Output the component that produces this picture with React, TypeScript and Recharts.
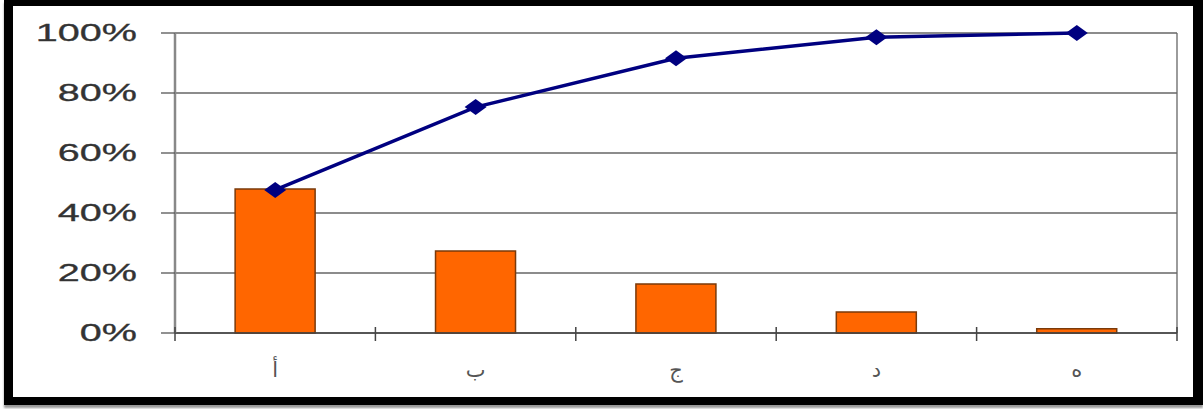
import React from 'react';
import { ComposedChart, Bar, Line, XAxis, YAxis, CartesianGrid } from 'recharts';

const categories = ['أ', 'ب', 'ج', 'د', 'ه'];
const share = [48, 27.3, 16.3, 7, 1.4];
const cumulative = [47.7, 75.3, 91.6, 98.6, 100];
const yTicks = [0, 20, 40, 60, 80, 100];

const data = categories.map((name, i) => ({ name, share: share[i], cumulative: cumulative[i] }));

const YTick = ({ x, y, payload }: any) => (
  <g transform={`translate(${x},${y}) scale(1.72,1)`}>
    <text
      textAnchor="end"
      dy={8}
      fontFamily="Liberation Sans, Arial, sans-serif"
      fontSize={23}
      fill="#333"
      stroke="#333"
      strokeWidth={0.3}
    >
      {`${payload.value}%`}
    </text>
  </g>
);

const XTick = ({ x, y, payload, index }: any) => {
  const half = payload.offset || 0;
  return (
    <g>
      <line x1={x - half} x2={x - half} y1={y - 6} y2={y + 8} stroke="#444" strokeWidth={1.5} />
      {index === categories.length - 1 && (
        <line x1={x + half} x2={x + half} y1={y - 6} y2={y + 8} stroke="#444" strokeWidth={1.5} />
      )}
      <text x={x} y={y + 44} textAnchor="middle" fontFamily="DejaVu Sans, sans-serif" fontSize={21} fill="#555">
        {payload.value}
      </text>
    </g>
  );
};

const Diamond = ({ cx, cy }: any) => (
  <polygon
    points={`${cx - 11},${cy} ${cx},${cy - 8} ${cx + 11},${cy} ${cx},${cy + 8}`}
    fill="#000080"
  />
);

export default function App() {
  return (
    <div style={{ position: 'fixed', left: 0, top: 0, width: 1203, height: 409, background: '#fff' }}>
      <div
        style={{
          position: 'absolute',
          left: 4,
          top: 0,
          width: 1199,
          height: 405,
          boxSizing: 'border-box',
          borderStyle: 'solid',
          borderColor: '#000',
          borderWidth: '6px 10px 8px 9px',
          boxShadow: '0 3px 2px #999',
        }}
      />
      <div style={{ position: 'absolute', left: 0, top: 0 }}>
        <ComposedChart
          width={1203}
          height={409}
          data={data}
          margin={{ top: 33, right: 26, bottom: 0, left: 0 }}
          barCategoryGap="30%"
        >
          <CartesianGrid
            stroke="#666"
            strokeWidth={1.3}
            verticalCoordinatesGenerator={({ offset }: any) => [offset.left + offset.width]}
            vertical
          />
          <XAxis
            dataKey="name"
            height={76}
            axisLine={{ stroke: '#444', strokeWidth: 1.5 }}
            tickLine={false}
            tickSize={0}
            tickMargin={0}
            tick={<XTick />}
            interval={0}
          />
          <YAxis
            width={175}
            domain={[0, 100]}
            ticks={yTicks}
            interval={0}
            axisLine={{ stroke: '#888', strokeWidth: 2.5 }}
            tickLine={{ stroke: '#555', strokeWidth: 1.3 }}
            tickSize={14}
            tickMargin={24}
            tick={<YTick />}
          />
          <Bar
            dataKey="share"
            fill="#FF6600"
            stroke="#7a3a0a"
            strokeWidth={1.5}
            isAnimationActive={false}
          />
          <Line
            dataKey="cumulative"
            stroke="#000080"
            strokeWidth={3.5}
            dot={<Diamond />}
            activeDot={false}
            isAnimationActive={false}
          />
        </ComposedChart>
      </div>
    </div>
  );
}
